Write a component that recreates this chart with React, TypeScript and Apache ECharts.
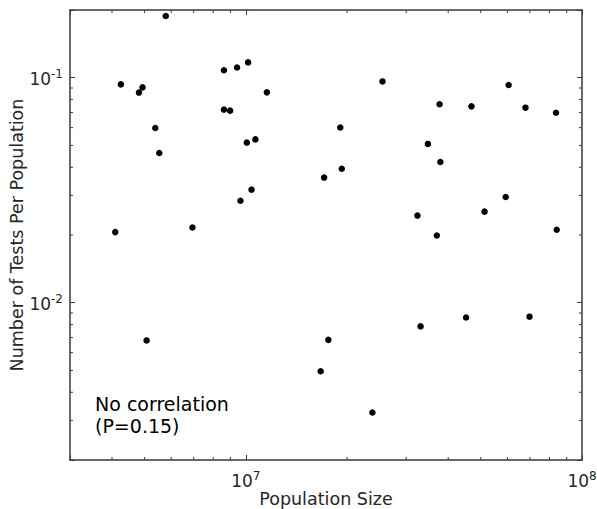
import React, { useEffect, useRef } from "react";
import * as echarts from "echarts";

const populationSize = [
  5.78e6, 4.25e6, 4.81e6, 4.93e6, 5.38e6, 5.53e6, 4.09e6, 6.94e6, 8.61e6, 9.42e6,
  1.016e7, 1.155e7, 8.61e6, 8.98e6, 1.007e7, 1.068e7, 1.04e7, 9.64e6, 2.55e7, 1.91e7,
  1.93e7, 1.71e7, 3.77e7, 4.69e7, 6.05e7, 6.79e7, 8.37e7, 3.48e7, 3.79e7, 3.24e7,
  3.7e7, 5.13e7, 5.93e7, 8.41e7, 5.07e6, 1.76e7, 1.67e7, 2.38e7, 3.31e7, 4.52e7, 6.98e7,
];
const testsPerPopulation = [
  0.188, 0.0934, 0.0859, 0.0906, 0.0598, 0.0463, 0.0206, 0.0216, 0.108, 0.111,
  0.117, 0.0861, 0.0722, 0.0714, 0.0515, 0.0532, 0.0318, 0.0284, 0.0963, 0.0601,
  0.0394, 0.036, 0.0762, 0.0746, 0.0928, 0.0736, 0.0699, 0.0508, 0.0422, 0.0244,
  0.0199, 0.0254, 0.0295, 0.0211, 0.0068, 0.00684, 0.00496, 0.00325, 0.00785, 0.0086, 0.00867,
];
const xMinorTicks = [4e6, 5e6, 6e6, 7e6, 8e6, 9e6, 2e7, 3e7, 4e7, 5e7, 6e7, 7e7, 8e7, 9e7];
const yMinorTicks = [3e-3, 4e-3, 5e-3, 6e-3, 7e-3, 8e-3, 9e-3, 2e-2, 3e-2, 4e-2, 5e-2, 6e-2, 7e-2, 8e-2, 9e-2];
const xRange = [3e6, 1e8];
const yRange = [0.002, 0.2];
const xTitle = "Population Size";
const yTitle = "Number of Tests Per Population";
const noteText = "No correlation\n(P=0.15)";

const AXIS_COLOR = "#3a3a3a";
const TEXT_COLOR = "#262626";
const FONT = "DejaVu Sans";

function powLabel(v: number): string {
  const e = Math.log10(v);
  const r = Math.round(e);
  if (Math.abs(e - r) > 1e-6) return "";
  return `{b|10}{s|${r}}`;
}

const richLabel = {
  b: { fontSize: 17, fontFamily: FONT, color: TEXT_COLOR, verticalAlign: "bottom", padding: [2, 0, 0, 0] },
  s: { fontSize: 12, fontFamily: FONT, color: TEXT_COLOR, verticalAlign: "top" },
};

export default function App() {
  const ref = useRef<HTMLDivElement>(null);
  useEffect(() => {
    if (!ref.current) return;
    const chart = echarts.init(ref.current, undefined, { renderer: "svg" });
    const axisCommon = {
      type: "log" as const,
      logBase: 10,
      axisLine: { show: true, lineStyle: { color: AXIS_COLOR, width: 1.5 } },
      axisTick: { show: true, inside: true, length: 5, lineStyle: { color: AXIS_COLOR, width: 1 } },
      splitLine: { show: false },
      minorTick: { show: false },
    };
    const tickLine = (x1: number, y1: number, x2: number, y2: number) => ({
      type: "line",
      shape: { x1, y1, x2, y2 },
      style: { stroke: AXIS_COLOR, lineWidth: 1 },
    });
    chart.setOption({
      animation: false,
      grid: { left: 70, right: 15, top: 10, bottom: 49, containLabel: false, outerBoundsMode: "none" },
      xAxis: [
        {
          ...axisCommon,
          position: "bottom",
          min: xRange[0],
          max: xRange[1],
          name: xTitle,
          nameLocation: "middle",
          nameGap: 30,
          nameMoveOverlap: false,
          nameTextStyle: { fontSize: 17.5, fontFamily: FONT, color: TEXT_COLOR },
          axisLabel: { show: true, margin: 10, formatter: powLabel, rich: richLabel, showMinLabel: true, showMaxLabel: true },
        },
        {
          ...axisCommon,
          position: "top",
          min: xRange[0],
          max: xRange[1],
          axisLabel: { show: false },
        },
      ],
      yAxis: [
        {
          ...axisCommon,
          position: "left",
          min: yRange[0],
          max: yRange[1],
          name: yTitle,
          nameLocation: "middle",
          nameGap: 44,
          nameRotate: 90,
          nameMoveOverlap: false,
          nameTextStyle: { fontSize: 17.5, fontFamily: FONT, color: TEXT_COLOR },
          axisLabel: { show: true, margin: 7, formatter: powLabel, rich: richLabel },
        },
        {
          ...axisCommon,
          position: "right",
          min: yRange[0],
          max: yRange[1],
          axisLabel: { show: false },
        },
      ],
      series: [
        {
          type: "scatter",
          xAxisIndex: 0,
          yAxisIndex: 0,
          symbol: "circle",
          symbolSize: 6.5,
          itemStyle: { color: "#000000", opacity: 1 },
          data: populationSize.map((x, i) => [x, testsPerPopulation[i]]),
        },
        {
          type: "custom",
          xAxisIndex: 0,
          yAxisIndex: 0,
          silent: true,
          clip: false,
          data: xMinorTicks.map((x) => [x, 0.01]),
          renderItem: (params: any, api: any) => {
            const cs = params.coordSys;
            const x = api.coord([api.value(0), api.value(1)])[0];
            const bottom = cs.y + cs.height;
            return {
              type: "group",
              children: [tickLine(x, bottom, x, bottom - 3), tickLine(x, cs.y, x, cs.y + 3)],
            };
          },
        },
        {
          type: "custom",
          xAxisIndex: 0,
          yAxisIndex: 0,
          silent: true,
          clip: false,
          data: yMinorTicks.map((y) => [1e7, y]),
          renderItem: (params: any, api: any) => {
            const cs = params.coordSys;
            const y = api.coord([api.value(0), api.value(1)])[1];
            const right = cs.x + cs.width;
            return {
              type: "group",
              children: [tickLine(cs.x, y, cs.x + 3, y), tickLine(right, y, right - 3, y)],
            };
          },
        },
      ],
      graphic: [
        {
          type: "text",
          left: 95,
          top: 393,
          style: {
            text: noteText,
            fill: "#000000",
            font: `19px "${FONT}"`,
            lineHeight: 22,
          },
        },
      ],
    });
    return () => chart.dispose();
  }, []);
  return (
    <div
      ref={ref}
      style={{ position: "fixed", left: 0, top: 0, width: 597, height: 509, background: "#ffffff" }}
    />
  );
}
